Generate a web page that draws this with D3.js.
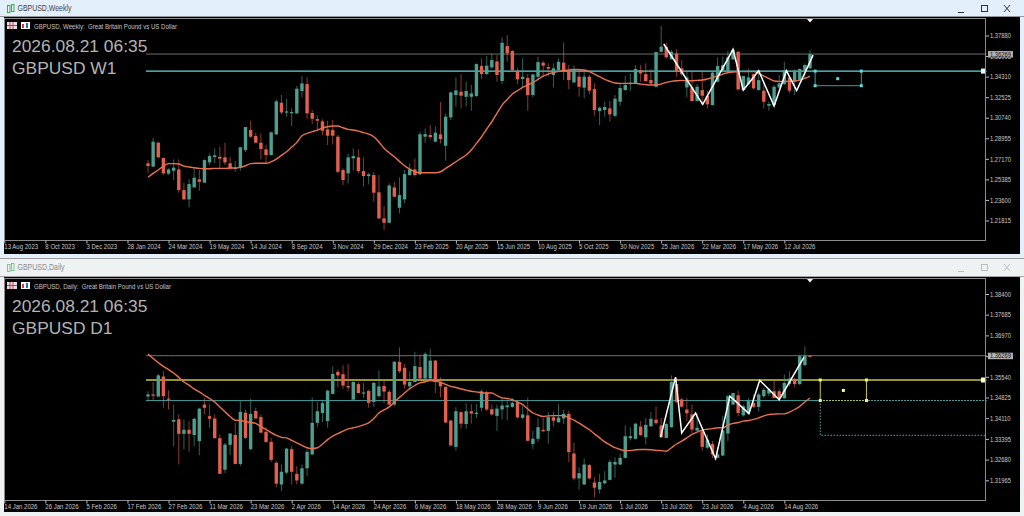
<!DOCTYPE html>
<html><head><meta charset="utf-8">
<script src="https://cdn.jsdelivr.net/npm/d3@7"></script>
<style>html,body{margin:0;padding:0;background:#fff;overflow:hidden}svg{display:block}text{font-family:"Liberation Sans",sans-serif}</style>
</head><body>
<svg id="c" width="1024" height="516"></svg>
<script>
const weekLabels=["13 Aug 2023","8 Oct 2023","3 Dec 2023","28 Jan 2024","24 Mar 2024","19 May 2024","14 Jul 2024","8 Sep 2024","3 Nov 2024","29 Dec 2024","23 Feb 2025","20 Apr 2025","15 Jun 2025","10 Aug 2025","5 Oct 2025","30 Nov 2025","25 Jan 2026","22 Mar 2026","17 May 2026","12 Jul 2026"];
const dayLabels=["14 Jan 2026","26 Jan 2026","5 Feb 2026","17 Feb 2026","27 Feb 2026","11 Mar 2026","23 Mar 2026","2 Apr 2026","14 Apr 2026","24 Apr 2026","6 May 2026","18 May 2026","28 May 2026","9 Jun 2026","19 Jun 2026","1 Jul 2026","13 Jul 2026","23 Jul 2026","4 Aug 2026","14 Aug 2026"];
const weekTicks=[1.3788,1.36095,1.3431,1.32525,1.3074,1.28955,1.2717,1.25385,1.236,1.21815];
const dayTicks=[1.384,1.37685,1.3697,1.36255,1.3554,1.34825,1.3411,1.33395,1.3268,1.31965];
const lastPrice=1.36269;
const wOpen=[1.2678,1.2649,1.2857,1.2724,1.2588,1.2614,1.2625,1.2446,1.2365,1.2469,1.2539,1.2510,1.2686,1.2732,1.2735,1.2730,1.2678,1.2631,1.2640,1.2793,1.2967,1.2915,1.2857,1.2799,1.2750,1.2929,1.3204,1.3120,1.3115,1.3112,1.3306,1.3366,1.3115,1.3062,1.3042,1.2973,1.2967,1.2909,1.2620,1.2591,1.2721,1.2730,1.2611,1.2567,1.2576,1.2426,1.2200,1.2162,1.2469,1.2292,1.2365,1.2576,1.2625,1.2582,1.2909,1.2924,1.2866,1.2929,1.2831,1.3077,1.3271,1.3300,1.3256,1.3256,1.3262,1.3523,1.3453,1.3511,1.3563,1.3393,1.3696,1.3653,1.3482,1.3410,1.3419,1.3271,1.3430,1.3552,1.3514,1.3445,1.3488,1.3552,1.3471,1.3381,1.3430,1.3335,1.3430,1.3323,1.3132,1.3141,1.3155,1.3091,1.3213,1.3314,1.3366,1.3372,1.3488,1.3453,1.3401,1.3343,1.3647,1.3691,1.3581,1.3633,1.3503,1.3337,1.3337,1.3219,1.3314,1.3265,1.3184,1.3387,1.3474,1.3482,1.3581,1.3647,1.3314,1.3366,1.3453,1.3314,1.3309,1.3178,1.3184,1.3337,1.3366,1.3424,1.3387,1.3401,1.3482,1.3503];
const wHigh=[1.2706,1.2900,1.2866,1.2730,1.2634,1.2712,1.2712,1.2510,1.2541,1.2634,1.2620,1.2712,1.2764,1.2808,1.2822,1.2857,1.2735,1.2698,1.2822,1.2996,1.3048,1.2944,1.2938,1.2837,1.2953,1.3233,1.3271,1.3239,1.3155,1.3349,1.3436,1.3424,1.3141,1.3097,1.3060,1.3048,1.3054,1.2924,1.2634,1.2759,1.2808,1.2799,1.2730,1.2596,1.2605,1.2576,1.2307,1.2504,1.2518,1.2556,1.2620,1.2678,1.2718,1.2953,1.2981,1.3010,1.2996,1.3210,1.3112,1.3300,1.3424,1.3453,1.3387,1.3358,1.3546,1.3589,1.3610,1.3633,1.3618,1.3772,1.3792,1.3662,1.3503,1.3592,1.3453,1.3453,1.3604,1.3569,1.3546,1.3546,1.3589,1.3728,1.3531,1.3531,1.3497,1.3482,1.3445,1.3372,1.3170,1.3213,1.3219,1.3271,1.3366,1.3436,1.3459,1.3531,1.3531,1.3546,1.3497,1.3647,1.3870,1.3725,1.3662,1.3668,1.3575,1.3482,1.3482,1.3366,1.3482,1.3308,1.3474,1.3598,1.3604,1.3656,1.3668,1.3656,1.3436,1.3503,1.3453,1.3482,1.3387,1.3213,1.3358,1.3445,1.3560,1.3436,1.3494,1.3503,1.3546,1.3662];
const wLow=[1.2596,1.2649,1.2721,1.2576,1.2579,1.2533,1.2423,1.2359,1.2295,1.2469,1.2440,1.2510,1.2663,1.2678,1.2634,1.2663,1.2620,1.2605,1.2614,1.2776,1.2897,1.2851,1.2712,1.2678,1.2744,1.2924,1.3106,1.3083,1.3002,1.3106,1.3248,1.3068,1.3019,1.2961,1.2924,1.2837,1.2842,1.2591,1.2489,1.2504,1.2614,1.2591,1.2475,1.2495,1.2345,1.2194,1.2098,1.2156,1.2382,1.2243,1.2330,1.2570,1.2562,1.2576,1.2857,1.2886,1.2866,1.2851,1.2700,1.3054,1.3170,1.3155,1.3170,1.3135,1.3256,1.3410,1.3445,1.3500,1.3387,1.3366,1.3560,1.3482,1.3366,1.3343,1.3135,1.3251,1.3401,1.3424,1.3436,1.3335,1.3482,1.3401,1.3320,1.3372,1.3256,1.3242,1.3280,1.3092,1.3010,1.3083,1.3039,1.3077,1.3176,1.3308,1.3308,1.3366,1.3387,1.3384,1.3358,1.3337,1.3639,1.3586,1.3581,1.3430,1.3436,1.3251,1.3213,1.3213,1.3184,1.3155,1.3181,1.3381,1.3465,1.3476,1.3575,1.3309,1.3309,1.3358,1.3320,1.3309,1.3155,1.3135,1.3170,1.3329,1.3358,1.3291,1.3271,1.3395,1.3416,1.3497];
const wClose=[1.2654,1.2866,1.2730,1.2591,1.2625,1.2640,1.2446,1.2365,1.2498,1.2553,1.2518,1.2706,1.2741,1.2747,1.2718,1.2686,1.2634,1.2640,1.2817,1.2993,1.2909,1.2857,1.2802,1.2750,1.2947,1.3216,1.3120,1.3129,1.3123,1.3326,1.3372,1.3112,1.3065,1.3048,1.2961,1.2918,1.2918,1.2605,1.2533,1.2730,1.2741,1.2611,1.2567,1.2582,1.2423,1.2200,1.2162,1.2486,1.2388,1.2402,1.2585,1.2625,1.2576,1.2930,1.2932,1.2906,1.2944,1.2889,1.3083,1.3294,1.3311,1.3265,1.3306,1.3285,1.3540,1.3453,1.3526,1.3575,1.3445,1.3725,1.3633,1.3488,1.3407,1.3430,1.3271,1.3450,1.3557,1.3526,1.3500,1.3503,1.3560,1.3474,1.3401,1.3494,1.3343,1.3430,1.3309,1.3141,1.3161,1.3167,1.3103,1.3239,1.3332,1.3358,1.3378,1.3497,1.3459,1.3393,1.3372,1.3644,1.3691,1.3598,1.3647,1.3479,1.3453,1.3424,1.3219,1.3343,1.3265,1.3190,1.3465,1.3523,1.3531,1.3598,1.3662,1.3320,1.3436,1.3424,1.3329,1.3401,1.3213,1.3193,1.3343,1.3372,1.3488,1.3309,1.3482,1.3497,1.3531,1.3627];
const wMA=[1.2556,1.2591,1.2620,1.2654,1.2675,1.2675,1.2672,1.2654,1.2646,1.2640,1.2634,1.2631,1.2631,1.2634,1.2634,1.2634,1.2637,1.2637,1.2643,1.2657,1.2675,1.2678,1.2678,1.2678,1.2692,1.2715,1.2747,1.2779,1.2819,1.2860,1.2918,1.2938,1.2953,1.2967,1.2984,1.2996,1.3002,1.3002,1.2987,1.2973,1.2967,1.2958,1.2944,1.2932,1.2909,1.2863,1.2808,1.2770,1.2735,1.2695,1.2657,1.2628,1.2605,1.2596,1.2596,1.2596,1.2596,1.2605,1.2634,1.2663,1.2692,1.2721,1.2750,1.2793,1.2851,1.2909,1.2976,1.3039,1.3112,1.3184,1.3233,1.3280,1.3309,1.3337,1.3358,1.3378,1.3407,1.3436,1.3453,1.3468,1.3476,1.3482,1.3488,1.3494,1.3491,1.3488,1.3474,1.3453,1.3430,1.3407,1.3390,1.3375,1.3372,1.3372,1.3372,1.3372,1.3366,1.3361,1.3358,1.3358,1.3366,1.3381,1.3390,1.3395,1.3398,1.3395,1.3395,1.3398,1.3401,1.3410,1.3424,1.3436,1.3453,1.3465,1.3471,1.3474,1.3474,1.3474,1.3474,1.3459,1.3436,1.3413,1.3393,1.3390,1.3390,1.3390,1.3393,1.3401,1.3416,1.3436];
const wZigBar=[100.5,108.1,114,116,119,122,124.4,126.4,129.6];
const wZigPrice=[1.3714,1.3190,1.3668,1.3314,1.3482,1.3176,1.3482,1.3309,1.3618];
const dOpen=[1.3486,1.3493,1.3486,1.3555,1.3479,1.3399,1.3407,1.3357,1.3371,1.3353,1.3332,1.3458,1.3418,1.3410,1.3342,1.3233,1.3319,1.3353,1.3253,1.3430,1.3304,1.3436,1.3415,1.3364,1.3329,1.3257,1.3182,1.3223,1.3304,1.3219,1.3185,1.3238,1.3286,1.3395,1.3429,1.3401,1.3495,1.3571,1.3563,1.3522,1.3475,1.3529,1.3497,1.3505,1.3467,1.3487,1.3522,1.3502,1.3458,1.3605,1.3585,1.3521,1.3536,1.3588,1.3548,1.3548,1.3610,1.3536,1.3519,1.3403,1.3312,1.3432,1.3391,1.3435,1.3425,1.3447,1.3500,1.3442,1.3419,1.3441,1.3449,1.3450,1.3466,1.3412,1.3421,1.3322,1.3340,1.3371,1.3367,1.3414,1.3397,1.3410,1.3426,1.3289,1.3203,1.3182,1.3249,1.3189,1.3165,1.3186,1.3198,1.3251,1.3251,1.3274,1.3342,1.3340,1.3382,1.3345,1.3383,1.3406,1.3386,1.3343,1.3380,1.3529,1.3476,1.3441,1.3424,1.3368,1.3366,1.3309,1.3322,1.3274,1.3282,1.3358,1.3458,1.3490,1.3421,1.3427,1.3464,1.3450,1.3487,1.3496,1.3504,1.3504,1.3480,1.3529,1.3547,1.3529,1.3594,1.3627];
const dHigh=[1.3504,1.3536,1.3564,1.3573,1.3507,1.3458,1.3424,1.3406,1.3401,1.3412,1.3447,1.3481,1.3458,1.3424,1.3357,1.3326,1.3360,1.3395,1.3470,1.3441,1.3479,1.3447,1.3424,1.3380,1.3343,1.3263,1.3251,1.3309,1.3314,1.3245,1.3251,1.3303,1.3483,1.3467,1.3475,1.3510,1.3590,1.3579,1.3594,1.3598,1.3539,1.3536,1.3533,1.3510,1.3536,1.3576,1.3539,1.3509,1.3608,1.3656,1.3598,1.3573,1.3640,1.3631,1.3639,1.3651,1.3612,1.3552,1.3521,1.3404,1.3449,1.3435,1.3463,1.3460,1.3460,1.3510,1.3506,1.3458,1.3458,1.3481,1.3475,1.3481,1.3472,1.3452,1.3483,1.3368,1.3412,1.3412,1.3432,1.3433,1.3461,1.3441,1.3437,1.3326,1.3242,1.3272,1.3253,1.3207,1.3219,1.3228,1.3268,1.3276,1.3288,1.3386,1.3380,1.3395,1.3401,1.3412,1.3432,1.3452,1.3412,1.3395,1.3559,1.3550,1.3481,1.3481,1.3458,1.3429,1.3378,1.3355,1.3332,1.3309,1.3418,1.3493,1.3498,1.3506,1.3458,1.3481,1.3493,1.3498,1.3516,1.3516,1.3542,1.3513,1.3562,1.3573,1.3550,1.3631,1.3659,1.3629];
const dLow=[1.3470,1.3470,1.3483,1.3447,1.3441,1.3314,1.3251,1.3303,1.3295,1.3314,1.3283,1.3424,1.3378,1.3341,1.3217,1.3221,1.3283,1.3251,1.3245,1.3340,1.3300,1.3409,1.3360,1.3326,1.3260,1.3173,1.3159,1.3217,1.3182,1.3182,1.3180,1.3211,1.3283,1.3380,1.3398,1.3378,1.3493,1.3518,1.3512,1.3504,1.3473,1.3496,1.3481,1.3447,1.3450,1.3483,1.3463,1.3455,1.3452,1.3567,1.3513,1.3510,1.3535,1.3542,1.3544,1.3544,1.3498,1.3483,1.3394,1.3314,1.3299,1.3375,1.3374,1.3392,1.3412,1.3435,1.3435,1.3420,1.3366,1.3406,1.3404,1.3447,1.3410,1.3409,1.3332,1.3305,1.3329,1.3363,1.3323,1.3383,1.3395,1.3391,1.3260,1.3196,1.3164,1.3181,1.3199,1.3138,1.3150,1.3182,1.3196,1.3205,1.3249,1.3272,1.3334,1.3337,1.3349,1.3320,1.3381,1.3389,1.3343,1.3341,1.3378,1.3464,1.3447,1.3401,1.3360,1.3366,1.3299,1.3303,1.3274,1.3274,1.3280,1.3332,1.3456,1.3417,1.3417,1.3424,1.3447,1.3435,1.3481,1.3487,1.3478,1.3475,1.3478,1.3521,1.3518,1.3525,1.3593,1.3624];
const dClose=[1.3493,1.3489,1.3559,1.3487,1.3476,1.3405,1.3357,1.3371,1.3357,1.3409,1.3444,1.3447,1.3409,1.3342,1.3219,1.3320,1.3358,1.3253,1.3433,1.3343,1.3426,1.3410,1.3361,1.3329,1.3267,1.3185,1.3226,1.3306,1.3226,1.3196,1.3238,1.3295,1.3395,1.3435,1.3463,1.3506,1.3564,1.3559,1.3524,1.3517,1.3536,1.3498,1.3500,1.3464,1.3533,1.3521,1.3503,1.3458,1.3606,1.3573,1.3527,1.3536,1.3591,1.3548,1.3633,1.3610,1.3536,1.3521,1.3396,1.3317,1.3435,1.3392,1.3435,1.3427,1.3430,1.3504,1.3441,1.3424,1.3444,1.3455,1.3455,1.3464,1.3414,1.3424,1.3333,1.3340,1.3380,1.3366,1.3415,1.3402,1.3413,1.3426,1.3294,1.3203,1.3221,1.3251,1.3203,1.3171,1.3191,1.3196,1.3260,1.3260,1.3274,1.3349,1.3349,1.3392,1.3353,1.3388,1.3409,1.3394,1.3345,1.3391,1.3536,1.3467,1.3451,1.3428,1.3372,1.3378,1.3312,1.3337,1.3286,1.3286,1.3369,1.3487,1.3498,1.3429,1.3452,1.3470,1.3450,1.3493,1.3509,1.3510,1.3481,1.3481,1.3533,1.3548,1.3529,1.3625,1.3627,1.3626];
const dMA=[1.3633,1.3617,1.3603,1.3590,1.3579,1.3567,1.3552,1.3536,1.3525,1.3512,1.3502,1.3490,1.3479,1.3467,1.3450,1.3433,1.3417,1.3404,1.3403,1.3399,1.3396,1.3393,1.3382,1.3372,1.3361,1.3352,1.3345,1.3343,1.3334,1.3326,1.3317,1.3309,1.3306,1.3309,1.3322,1.3337,1.3349,1.3358,1.3366,1.3374,1.3378,1.3382,1.3388,1.3395,1.3410,1.3429,1.3440,1.3450,1.3467,1.3483,1.3498,1.3513,1.3524,1.3533,1.3537,1.3541,1.3539,1.3535,1.3528,1.3521,1.3517,1.3512,1.3508,1.3504,1.3502,1.3499,1.3498,1.3498,1.3489,1.3481,1.3479,1.3475,1.3467,1.3458,1.3443,1.3429,1.3422,1.3417,1.3419,1.3420,1.3420,1.3420,1.3412,1.3404,1.3394,1.3383,1.3371,1.3357,1.3343,1.3329,1.3319,1.3309,1.3303,1.3299,1.3299,1.3302,1.3303,1.3303,1.3302,1.3300,1.3299,1.3297,1.3309,1.3322,1.3332,1.3343,1.3355,1.3363,1.3370,1.3373,1.3375,1.3378,1.3378,1.3387,1.3393,1.3396,1.3401,1.3403,1.3407,1.3412,1.3419,1.3424,1.3425,1.3426,1.3426,1.3432,1.3441,1.3452,1.3467,1.3481];
const dZigBar=[99.9,102.8,104,106.7,110.6,113.4,117.1,119.2,123,127.8];
const dZigPrice=[1.3346,1.3553,1.3360,1.3429,1.3271,1.3487,1.3427,1.3542,1.3475,1.3621];

const svg=d3.select("#c");
const UP="#4e9f90",DOWN="#e4604e",MA="#e9714f",CY="#62d8d8",TEAL="#3d9a9a",YEL="#c9c93c",GREY="#6e6e6e";
const X=d3.scaleLinear().domain([0,129]).range([148,810]);
function squeeze(sel,k,len){sel.each(function(){const l=len||this.getComputedTextLength()*k;this.setAttribute("textLength",l);this.setAttribute("lengthAdjust","spacingAndGlyphs");});}

function chrome(t,h,bg,tc,title,len,active){
  svg.append("rect").attr("x",0).attr("y",t).attr("width",1024).attr("height",h).attr("fill",bg);
  svg.append("text").attr("x",17.5).attr("y",t+11).attr("font-size",8.6).attr("fill",tc).text(title).call(squeeze,0,len);
  const ic=svg.append("g").attr("stroke",active?"#3fae4f":"#7ec98a").attr("fill","none").attr("stroke-width",1);
  ic.append("rect").attr("x",7.5).attr("y",t+5.5).attr("width",2.5).attr("height",7);
  ic.append("rect").attr("x",11.5).attr("y",t+4.5).attr("width",2.5).attr("height",7);
  const w=svg.append("g").attr("stroke",active?"#333":"#bdbdbd").attr("fill","none").attr("stroke-width",1);
  w.append("line").attr("x1",958).attr("x2",964).attr("y1",t+12.5).attr("y2",t+12.5);
  w.append("rect").attr("x",981.5).attr("y",t+5.5).attr("width",6).attr("height",6);
  w.append("line").attr("x1",1004).attr("x2",1010).attr("y1",t+5).attr("y2",t+12);
  w.append("line").attr("x1",1010).attr("x2",1004).attr("y1",t+5).attr("y2",t+12);
}
function panel(cfg){
  const y=d3.scaleLinear().domain(cfg.yDomain).range(cfg.yRange);
  const g=svg.append("g");
  g.append("rect").attr("x",4).attr("y",cfg.top).attr("width",1016).attr("height",cfg.clientH).attr("fill","#000");
  cfg.levels.forEach(l=>g.append("line").attr("x1",X(-0.4)).attr("x2",X(l.to)).attr("y1",y(l.p)).attr("y2",y(l.p)).attr("stroke",l.c).attr("stroke-width",l.w));
  const n=d3.range(cfg.o.length);
  const cg=g.append("g");
  n.forEach(i=>{
    const up=cfg.c[i]>=cfg.o[i],col=up?UP:DOWN;
    const cs=cg.append("g");
    cs.append("line").attr("x1",X(i)).attr("x2",X(i)).attr("y1",y(cfg.h[i])).attr("y2",y(cfg.l[i])).attr("stroke",col).attr("stroke-opacity",0.62).attr("stroke-width",1);
    const a=y(Math.max(cfg.o[i],cfg.c[i])),b=y(Math.min(cfg.o[i],cfg.c[i]));
    cs.append("rect").attr("x",X(i)-1.7).attr("width",3.4).attr("y",a).attr("height",Math.max(b-a,1.2)).attr("fill",col);
  });
  const ln=d3.line().x((d,i)=>X(i)).y(d=>y(d)).curve(d3.curveMonotoneX);
  g.append("path").attr("d",ln(cfg.ma)).attr("fill","none").attr("stroke",MA).attr("stroke-width",1.4);
  const zz=d3.line().x(d=>X(d[0])).y(d=>y(d[1]));
  g.append("path").attr("d",zz(d3.zip(cfg.zb,cfg.zp))).attr("fill","none").attr("stroke","#fff").attr("stroke-width",1.5);
  if(cfg.extra) cfg.extra(g,y);
  g.append("rect").attr("x",4.5).attr("y",cfg.fTop+.5).attr("width",981).attr("height",cfg.fBot-cfg.fTop).attr("fill","none").attr("stroke","#8a8a8a");
  g.append("path").attr("d",`M${X(129)-3},${cfg.fTop+1}L${X(129)+3},${cfg.fTop+1}L${X(129)},${cfg.fTop+4.5}Z`).attr("fill","#fff");
  const ay=g.append("g").attr("transform","translate(986,0)").call(d3.axisRight(y).tickValues(cfg.yTicks).tickFormat(d3.format(".5f")).tickSize(3).tickPadding(1));
  ay.select(".domain").remove();
  ay.selectAll("line").attr("stroke","#bdbdbd");
  ay.selectAll("text").attr("fill","#c8c8c8").style("font-size","7px").call(squeeze,0.83);
  const idx=d3.range(-28,-28+8*cfg.xLabels.length,8);
  const ax=g.append("g").attr("transform",`translate(0,${cfg.fBot+.5})`).call(d3.axisBottom(X).tickValues(idx).tickFormat((d,i)=>cfg.xLabels[i]).tickSize(3).tickPadding(1));
  ax.select(".domain").remove();
  ax.selectAll("line").attr("stroke","#bdbdbd");
  ax.selectAll("text").attr("fill","#c8c8c8").attr("text-anchor","start").attr("dx",-0.5).style("font-size","7px").call(squeeze,0.86);
  g.append("rect").attr("x",988).attr("y",y(lastPrice)-3).attr("width",25).attr("height",6.5).attr("fill","#b0b0b0");
  g.append("text").attr("x",990).attr("y",y(lastPrice)+2.6).attr("font-size",7).attr("fill","#111").text("1.36269").call(squeeze,0.83);
  const hi=g.append("g");
  hi.append("rect").attr("x",7).attr("y",cfg.fTop+4).attr("width",10).attr("height",7).attr("fill","#e0e0ee");
  [10,13].forEach(v=>hi.append("line").attr("x1",v).attr("x2",v).attr("y1",cfg.fTop+4).attr("y2",cfg.fTop+11).attr("stroke","#d23a3a"));
  hi.append("line").attr("x1",7).attr("x2",17).attr("y1",cfg.fTop+7.5).attr("y2",cfg.fTop+7.5).attr("stroke","#3a6ac8");
  hi.append("rect").attr("x",21).attr("y",cfg.fTop+4).attr("width",9).attr("height",7).attr("fill","#fff");
  hi.append("rect").attr("x",22).attr("y",cfg.fTop+6).attr("width",2).attr("height",4).attr("fill","#d23a3a");
  hi.append("rect").attr("x",26).attr("y",cfg.fTop+5).attr("width",2).attr("height",5).attr("fill","#2a6cc0");
  g.append("text").attr("x",34).attr("y",cfg.fTop+10.5).attr("font-size",6.8).attr("fill","#c4c4c4").attr("xml:space","preserve").text(cfg.head).call(squeeze,0,cfg.headLen);
  g.append("text").attr("x",12).attr("y",cfg.fTop+34).attr("font-size",17.4).attr("fill","#b4b4b4").text("2026.08.21 06:35");
  g.append("text").attr("x",12).attr("y",cfg.fTop+56).attr("font-size",17.4).attr("fill","#b4b4b4").text(cfg.sym);
}
function handle(g,x,y,c,s){g.append("rect").attr("x",x-s/2).attr("y",y-s/2).attr("width",s).attr("height",s).attr("fill",c);}

chrome(0,258,"#e3effb","#444","GBPUSD,Weekly",54,true);
svg.append("rect").attr("x",0).attr("y",258).attr("width",1024).attr("height",1).attr("fill","#9a9a9a");
chrome(259,257,"#eff2f2","#8a8a8a","GBPUSD,Daily",47,false);
svg.append("rect").attr("x",0).attr("y",16).attr("width",1024).attr("height",1).attr("fill","#8f969c");
svg.append("rect").attr("x",0).attr("y",276).attr("width",1024).attr("height",1).attr("fill","#a5a5a5");

panel({top:17,clientH:237,fTop:18,fBot:240,yDomain:[1.21815,1.3788],yRange:[220.5,35.5],yTicks:weekTicks,xLabels:weekLabels,
  o:wOpen,h:wHigh,l:wLow,c:wClose,ma:wMA,zb:wZigBar,zp:wZigPrice,head:"GBPUSD, Weekly:  Great Britain Pound vs US Dollar",headLen:143,sym:"GBPUSD W1",
  levels:[{p:lastPrice,to:163.4,c:GREY,w:1},{p:1.3479,to:163.4,c:CY,w:1.4}],
  extra(g,y){
    const a=X(130),b=X(139),t=y(1.3479),u=y(1.3352);
    g.append("path").attr("d",`M${a},${t}V${u}H${b}V${t}`).attr("fill","none").attr("stroke",TEAL).attr("stroke-width",1);
    [[a,t],[b,t],[a,u],[b,u]].forEach(p=>handle(g,p[0],p[1],CY,3));
    handle(g,X(134.4),y(1.3413),CY,3);
    handle(g,X(162.8),t,"#e8fbfb",5);
  }});
panel({top:277,clientH:235,fTop:278,fBot:500,yDomain:[1.31965,1.384],yRange:[480.3,294],yTicks:dayTicks,xLabels:dayLabels,
  o:dOpen,h:dHigh,l:dLow,c:dClose,ma:dMA,zb:dZigBar,zp:dZigPrice,head:"GBPUSD, Daily:  Great Britain Pound vs US Dollar",headLen:137,sym:"GBPUSD D1",
  levels:[{p:lastPrice,to:163.4,c:GREY,w:1},{p:1.3543,to:163.4,c:YEL,w:1.6},{p:1.3472,to:131,c:TEAL,w:1}],
  extra(g,y){
    const a=X(131),b=X(140),t=y(1.3543),u=y(1.3472),v=y(1.3352),r=X(163.4);
    g.append("line").attr("x1",a).attr("x2",r).attr("y1",u).attr("y2",u).attr("stroke",CY).attr("stroke-dasharray","1.5 1.5");
    g.append("path").attr("d",`M${a},${u}V${v}H${r}`).attr("fill","none").attr("stroke",CY).attr("stroke-opacity",.8).attr("stroke-dasharray","1.5 1.5");
    g.append("path").attr("d",`M${a},${u}V${t}M${b},${t}V${u}`).attr("fill","none").attr("stroke",YEL).attr("stroke-width",1);
    g.append("line").attr("x1",a).attr("x2",b).attr("y1",u).attr("y2",u).attr("stroke",YEL).attr("stroke-dasharray","1.5 1.5");
    [[a,t],[b,t],[a,u],[b,u]].forEach(p=>handle(g,p[0],p[1],"#f4f48a",3));
    handle(g,X(135.5),y(1.3507),"#ffffa0",3);
    handle(g,X(162.8),t,"#ffffd0",5);
  }});
</script>
</body></html>
